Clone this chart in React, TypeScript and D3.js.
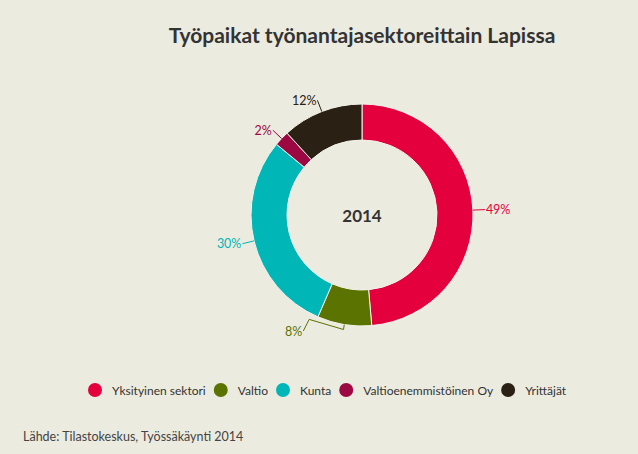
import { useEffect, useRef } from 'react';
import * as d3 from 'd3';

// Työpaikat työnantajasektoreittain Lapissa 2014 (%)
const sectors = [
  'Yksityinen sektori',
  'Valtio',
  'Kunta',
  'Valtioenemmistöinen Oy',
  'Yrittäjät',
];
const shares = [48.6, 7.9, 29.5, 2.2, 11.8];
const colors = ['#e4003d', '#5b7300', '#00b6b6', '#9c0842', '#2a2013'];

const title = 'Työpaikat työnantajasektoreittain Lapissa';
const centerLabel = '2014';
const source = 'Lähde: Tilastokeskus, Työssäkäynti 2014';

const width = 638;
const height = 454;
const font = 'Lato, "Noto Sans", sans-serif';

const DonutChart = () => {
  const svgRef = useRef<SVGSVGElement | null>(null);

  useEffect(() => {
    if (!svgRef.current) return;
    const svg = d3.select(svgRef.current);
    svg.selectAll('*').remove();

    svg
      .append('rect')
      .attr('width', width)
      .attr('height', height)
      .attr('fill', '#ecebe0');

    const cx = 362;
    const cy = 215;
    const outer = 111;
    const inner = 75;

    svg
      .append('text')
      .attr('x', cx)
      .attr('y', 34)
      .attr('text-anchor', 'middle')
      .attr('dominant-baseline', 'central')
      .style('font-family', font)
      .style('font-weight', 'bold')
      .style('font-size', '21px')
      .attr('fill', '#333')
      .text(title);

    const pie = d3
      .pie<number>()
      .sort(null)
      .value((d) => d);
    const arcs = pie(shares);

    const arc = d3
      .arc<d3.PieArcDatum<number>>()
      .innerRadius(inner)
      .outerRadius(outer);

    const g = svg.append('g').attr('transform', `translate(${cx},${cy})`);

    g.selectAll('path.slice')
      .data(arcs)
      .join('path')
      .attr('class', 'slice')
      .attr('d', arc)
      .attr('fill', (_, i) => colors[i])
      .attr('stroke', '#f4f3ec')
      .attr('stroke-width', 1);

    g.append('text')
      .attr('text-anchor', 'middle')
      .attr('dominant-baseline', 'central')
      .style('font-family', font)
      .style('font-weight', 'bold')
      .style('font-size', '17px')
      .attr('fill', '#333')
      .text(centerLabel);

    // data labels with connectors
    const maxLabelY = 116; // relative to centre
    const polar = (a: number, r: number): [number, number] => [
      r * Math.sin(a),
      -r * Math.cos(a),
    ];

    arcs.forEach((d, i) => {
      const mid = (d.startAngle + d.endAngle) / 2;
      const edge = polar(mid, outer);
      let end = polar(mid, outer + 12);
      let pts: [number, number][] = [edge, end];
      if (end[1] > maxLabelY) {
        const R = outer + 19;
        const dy = maxLabelY;
        const side = Math.sin(mid) < 0 ? -1 : 1;
        end = [side * Math.sqrt(R * R - dy * dy), dy];
        const la = Math.atan2(end[0], -end[1]);
        pts = [end, polar(la, outer + 6), polar(mid, outer + 5), edge];
      }
      g.append('path')
        .attr('d', d3.line()(pts))
        .attr('fill', 'none')
        .attr('stroke', colors[i])
        .attr('stroke-width', 1);

      const left = Math.sin(mid) < 0;
      g.append('text')
        .attr('x', end[0] + (left ? -1 : 1))
        .attr('y', end[1])
        .attr('text-anchor', left ? 'end' : 'start')
        .attr('dominant-baseline', 'central')
        .style('font-family', font)
        .style('font-size', '12.5px')
        .attr('fill', colors[i])
        .text(`${Math.round(shares[i])}%`);
    });

    // legend
    const legend = svg.append('g').attr('transform', 'translate(95,390)');
    let x = 0;
    sectors.forEach((s, i) => {
      const item = legend.append('g').attr('transform', `translate(${x},0)`);
      item.append('circle').attr('r', 7).attr('fill', colors[i]);
      const t = item
        .append('text')
        .attr('x', 17)
        .attr('dominant-baseline', 'central')
        .style('font-family', font)
        .style('font-size', '12px')
        .attr('fill', '#333')
        .text(s);
      const w = (t.node() as SVGTextElement).getComputedTextLength();
      x += 17 + w + 15;
    });

    svg
      .append('text')
      .attr('x', 23)
      .attr('y', 436)
      .attr('dominant-baseline', 'central')
      .style('font-family', font)
      .style('font-size', '12.5px')
      .attr('fill', '#444')
      .text(source);
  }, []);

  return (
    <svg
      ref={svgRef}
      width={width}
      height={height}
      style={{ position: 'absolute', left: 0, top: 0 }}
    />
  );
};

export default function App() {
  return <DonutChart />;
}
